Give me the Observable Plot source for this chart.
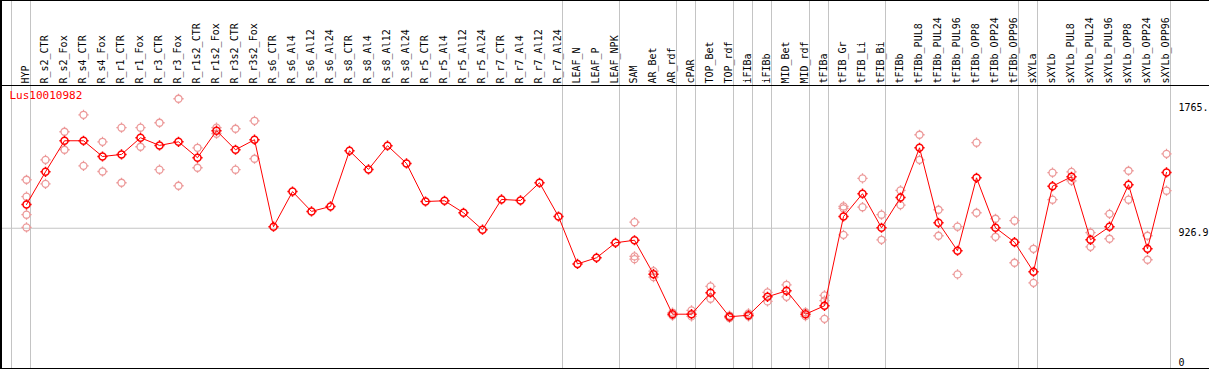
<!DOCTYPE html>
<html><head><meta charset="utf-8">
<script src="https://cdn.jsdelivr.net/npm/d3@7"></script>
<script src="https://cdn.jsdelivr.net/npm/@observablehq/plot@0.6"></script>
<style>
html,body{margin:0;padding:0;background:#fff;overflow:hidden}
#wrap{position:relative;width:1209px;height:370px}
#wrap svg{position:absolute;left:0;top:0}
#border{position:absolute;left:0;top:0;width:1209px;height:369px;box-sizing:border-box;border-top:1px solid #000;border-left:2px solid #000;border-bottom:1px solid #000;pointer-events:none;z-index:2}
</style></head><body><div id="wrap"><div id="border"></div></div>
<script>
const geneName = "Lus10010982";
const categories = ["HYP","R_s2_CTR","R_s2_Fox","R_s4_CTR","R_s4_Fox","R_r1_CTR","R_r1_Fox","R_r3_CTR","R_r3_Fox","R_r1s2_CTR","R_r1s2_Fox","R_r3s2_CTR","R_r3s2_Fox","R_s6_CTR","R_s6_Al4","R_s6_Al12","R_s6_Al24","R_s8_CTR","R_s8_Al4","R_s8_Al12","R_s8_Al24","R_r5_CTR","R_r5_Al4","R_r5_Al12","R_r5_Al24","R_r7_CTR","R_r7_Al4","R_r7_Al12","R_r7_Al24","LEAF_N","LEAF_P","LEAF_NPK","SAM","AR_Bet","AR_rdf","cPAR","TOP_Bet","TOP_rdf","iFIBa","iFIBb","MID_Bet","MID_rdf","tFIBa","tFIB_Gr","tFIB_Li","tFIB_Bi","tFIBb","tFIBb_PUL8","tFIBb_PUL24","tFIBb_PUL96","tFIBb_OPP8","tFIBb_OPP24","tFIBb_OPP96","sXYLa","sXYLb","sXYLb_PUL8","sXYLb_PUL24","sXYLb_PUL96","sXYLb_OPP8","sXYLb_OPP24","sXYLb_OPP96"];
const means = [1085,1303,1510,1510,1405,1419,1530,1479,1503,1397,1577,1450,1517,937,1171,1039,1072,1443,1319,1477,1359,1105,1110,1030,917,1119,1112,1230,1005,689,730,830,847,621,354,354,497,337,347,470,510,354,410,1005,1157,930,1131,1463,963,777,1263,930,834,637,1207,1270,850,937,1217,790,1299];
const replicates = [
  [1250,1137,1017,932],[1383,1223],[1570,1450],[1683,1343],[1503,1305],[1597,1230],[1597,1470],[1630,1317],[1790,1210],[1463,1330],[1597,1557],[1590,1317],[1643,1390],
  [],[],[],[],[],[],[],[],[],[],[],[],[],[],[],[],
  [],[],[],
  [967,739,721],[641,601],[365,345],[379,339],[539,457],[345,329],[359,339],[499,439],[550,470],[367,341],[479,445,323],
  [1072,1059,883],[1259,1067],[1017,850],[1179,1081],[1550,1383],[1050,877],[937,619],[1497,1030],[990,870],[977,697],
  [790,563],[1297,1117],[1303,1243],[897,803],[1023,857],[1310,1117],[877,717],[1423,1177]
];
const groupEnds = [0,1,29,32,35,36,38,39,40,42,43,46,53,54,61];
const yTicks = [926.9, 1765];
const yTickLabels = ["926.9", "1765."];
const yZero = [0];

const meanRows = categories.map((c, i) => ({idx: i + 1, cat: c, value: means[i]}));
const repRows = replicates.flatMap((vals, i) => vals.map(v => ({idx: i + 1, cat: categories[i], value: v})));

const sun = {
  draw(ctx, size) {
    const r = Math.sqrt(size / Math.PI);
    const t = 1.6;
    ctx.moveTo(r, 0);
    ctx.arc(0, 0, r, 0, 2 * Math.PI);
    ctx.moveTo(0, -r); ctx.lineTo(0, -r - t);
    ctx.moveTo(0, r); ctx.lineTo(0, r + t);
    ctx.moveTo(-r, 0); ctx.lineTo(-r - t, 0);
    ctx.moveTo(r, 0); ctx.lineTo(r + t, 0);
  }
};

const grid = "#c4c4c4";
const chart = Plot.plot({
  width: 1209, height: 370,
  marginTop: 85, marginBottom: 2, marginLeft: 0, marginRight: 0,
  x: {type: "linear", domain: [1, 61], range: [26, 1166], axis: null},
  y: {type: "linear", domain: [0, 1765], range: [366.8, 102], axis: null},
  style: {fontFamily: "'DejaVu Sans Mono', monospace", fontSize: "10px", background: "#fff", overflow: "visible"},
  marks: [
    Plot.ruleY([926.9], {stroke: grid, strokeWidth: 1, insetRight: 39}),
    Plot.ruleX(groupEnds, {x: d => d + 0.21, stroke: grid, strokeWidth: 1, insetTop: -85}),
    Plot.frame({anchor: "top", stroke: "#000"}),
    Plot.text(categories, {x: (d, i) => i + 1, text: d => d, frameAnchor: "top", rotate: -90, textAnchor: "start", lineAnchor: "middle", dy: -2, dx: -0.5, fill: "#000", fontWeight: 500}),
    Plot.text(yTicks, {y: d => d, text: (d, i) => yTickLabels[i], frameAnchor: "right", textAnchor: "start", dx: -31, dy: 5, fill: "#000"}),
    Plot.text(yZero, {y: d => d, text: d => String(d), frameAnchor: "right", textAnchor: "start", dx: -31, dy: -5, fill: "#000"}),
    Plot.text([geneName], {frameAnchor: "top-left", textAnchor: "start", lineAnchor: "top", dx: 9, dy: 6, fill: "#ff0000", fontSize: 11}),
    Plot.dot(repRows, {x: "idx", y: "value", symbol: sun, r: 3.5, stroke: "#ec9898", strokeWidth: 1.3, fill: "none"}),
    Plot.line(meanRows, {x: "idx", y: "value", stroke: "#ff0000", strokeWidth: 1}),
    Plot.dot(meanRows, {x: "idx", y: "value", symbol: sun, r: 3.5, stroke: "#ff0000", strokeWidth: 1.5, fill: "none"})
  ]
});
document.getElementById("wrap").prepend(chart);
</script>
</body></html>
